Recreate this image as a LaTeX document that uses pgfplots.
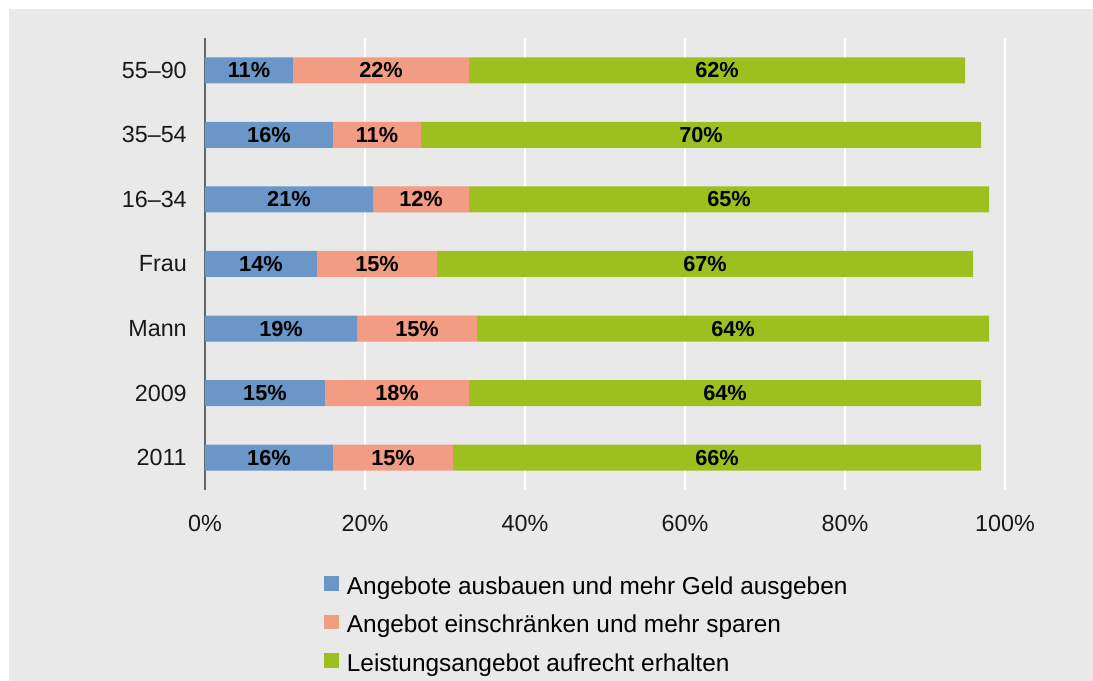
\documentclass[border=0pt]{standalone}
\usepackage{fontspec}
\setmainfont{Liberation Sans}
\usepackage{pgfplots}
\pgfplotsset{compat=1.18}

\definecolor{bgc}{RGB}{233,233,233}
\definecolor{cblue}{RGB}{106,150,200}
\definecolor{csalmon}{RGB}{243,156,132}
\definecolor{cgreen}{RGB}{157,192,30}
\definecolor{caxis}{RGB}{100,100,100}

\pgfplotsset{
  sq/.style={legend image code/.code={\fill[##1] (0pt,-2pt) rectangle (11pt,9pt);}}
}

\begin{document}
\begin{tikzpicture}
\useasboundingbox (-153.75pt,-143.25pt) rectangle (666pt,367.5pt);
\fill[bgc] (-147pt,-143.25pt) rectangle (666pt,360.75pt);
\begin{axis}[
    scale only axis,
    width=600pt, height=339pt,
    at={(0pt,0pt)}, anchor=south west,
    xbar stacked,
    bar width=19.5pt,
    xmin=0, xmax=100,
    ymin=-0.5, ymax=6.5,
    xtick={0,20,...,100},
    xticklabel={\pgfmathprintnumber[assume math mode=true]{\tick}\%},
    ytick={0,...,6},
    yticklabels={2011,2009,Mann,Frau,16--34,35--54,55--90},
    axis lines*=left,
    axis line style={draw=none},
    major tick length=0pt,
    xmajorgrids,
    major grid style={draw=white, line width=1.5pt},
    tick label style={font=\fontsize{17.5}{21}\selectfont, text=black!90},
    yticklabel style={inner sep=0pt, anchor=east, xshift=-13.5pt},
    xticklabel style={inner sep=0pt, anchor=north, yshift=-19pt},
    clip=false,
    point meta=rawx,
    nodes near coords={\pgfmathprintnumber[assume math mode=true]{\pgfplotspointmeta}\%},
    every node near coord/.append style={font=\bfseries\fontsize{16.3}{19}\selectfont,
        anchor=center, inner sep=0pt, text=black},
    legend style={
        at={(0.14875,-0.1905)}, anchor=north west,
        draw=none, fill=none, inner sep=0pt,
        font=\fontsize{18.3}{22}\selectfont,
        row sep=11.8pt,
        nodes={inner sep=0pt, text height=12.5pt, text depth=3.5pt},
        /tikz/every odd column/.append style={column sep=6pt},
    },
    legend cell align=left,
]
\addplot[fill=cblue, draw=none, sq] coordinates {(16,0) (15,1) (19,2) (14,3) (21,4) (16,5) (11,6)};
\addplot[fill=csalmon, draw=none, sq] coordinates {(15,0) (18,1) (15,2) (15,3) (12,4) (11,5) (22,6)};
\addplot[fill=cgreen, draw=none, sq] coordinates {(66,0) (64,1) (64,2) (67,3) (65,4) (70,5) (62,6)};
\legend{Angebote ausbauen und mehr Geld ausgeben,
        Angebot einschränken und mehr sparen,
        Leistungsangebot aufrecht erhalten}
\draw[caxis, line width=1pt] (axis cs:0,-0.5) -- (axis cs:0,6.5);
\end{axis}
\end{tikzpicture}
\end{document}
